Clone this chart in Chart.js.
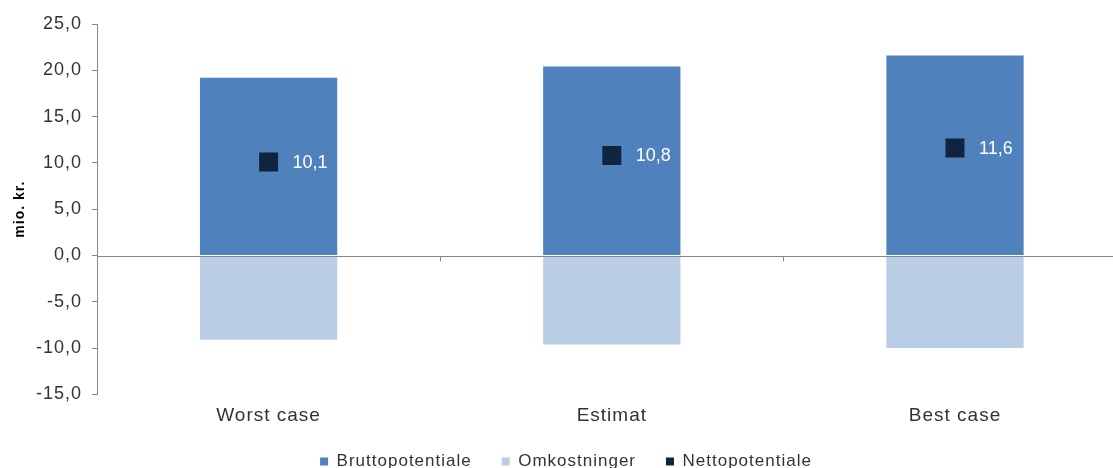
<!DOCTYPE html>
<html lang="da">
<head>
<meta charset="utf-8">
<title>Potentiale</title>
<script src="https://cdn.jsdelivr.net/npm/chart.js@4/dist/chart.umd.min.js"></script>
<style>
  html, body { margin: 0; padding: 0; background: #fff; }
  #wrap { width: 1113px; height: 468px; overflow: hidden; position: relative; }
  #c { display: block; }
</style>
</head>
<body>
<div id="wrap"><canvas id="c" width="1140" height="480"></canvas></div>
<script>
const categories = ['Worst case', 'Estimat', 'Best case'];
const bruttopotentiale = [19.2, 20.4, 21.6];
const omkostninger = [-9.1, -9.6, -10.0];
const nettopotentiale = [10.1, 10.8, 11.6];
const seriesNames = ['Bruttopotentiale', 'Omkostninger', 'Nettopotentiale'];
const yTitle = 'mio. kr.';

const fmt = v => v.toFixed(1).replace('.', ',');
const FONT = '"Liberation Sans", Arial, sans-serif';
const AXIS = '#868686';
const TEXT = '#333333';

// Slightly tracked-out lettering for all chart text
// (set again before layout and drawing, since resizing the canvas resets its state)
const tracking = {
  id: 'tracking',
  beforeUpdate(chart) { chart.ctx.letterSpacing = '1px'; },
  beforeDraw(chart) { chart.ctx.letterSpacing = '1px'; }
};

// Zero line across the plot, with small ticks between the categories
const zeroAxis = {
  id: 'zeroAxis',
  afterDatasetsDraw(chart) {
    const { ctx, chartArea, scales: { x, y } } = chart;
    const y0 = Math.round(y.getPixelForValue(0)) + 0.5;
    ctx.save();
    ctx.strokeStyle = AXIS;
    ctx.lineWidth = 1;
    ctx.beginPath();
    ctx.moveTo(chartArea.left, y0);
    ctx.lineTo(chartArea.right, y0);
    for (let i = 0; i <= categories.length; i++) {
      const px = Math.round(x.getPixelForValue(i - 0.5)) + 0.5;
      ctx.moveTo(px, y0);
      ctx.lineTo(px, y0 + 5);
    }
    ctx.stroke();
    ctx.restore();
  }
};

// Value labels to the right of the net markers
const netLabels = {
  id: 'netLabels',
  afterDatasetsDraw(chart) {
    const { ctx } = chart;
    const meta = chart.getDatasetMeta(2);
    ctx.save();
    ctx.letterSpacing = '0px';
    ctx.font = '18px ' + FONT;
    ctx.fillStyle = '#ffffff';
    ctx.textAlign = 'left';
    ctx.textBaseline = 'middle';
    meta.data.forEach((pt, i) => {
      ctx.fillText(fmt(nettopotentiale[i]), pt.x + 24, pt.y + 1);
    });
    ctx.restore();
  }
};

new Chart(document.getElementById('c'), {
  data: {
    labels: categories,
    datasets: [
      {
        type: 'bar',
        label: seriesNames[0],
        data: bruttopotentiale,
        backgroundColor: '#4F81BD',
        categoryPercentage: 1,
        barPercentage: 0.4,
        order: 2
      },
      {
        type: 'bar',
        label: seriesNames[1],
        data: omkostninger,
        backgroundColor: '#B9CDE5',
        categoryPercentage: 1,
        barPercentage: 0.4,
        order: 2
      },
      {
        type: 'line',
        label: seriesNames[2],
        data: nettopotentiale,
        showLine: false,
        pointStyle: 'rect',
        pointRadius: 13.4,
        pointHoverRadius: 13.4,
        pointBorderWidth: 0,
        backgroundColor: '#10243F',
        borderColor: '#10243F',
        order: 1
      }
    ]
  },
  options: {
    responsive: false,
    animation: false,
    devicePixelRatio: 1,
    layout: { padding: { top: 24, right: 8, bottom: 0, left: 0 } },
    plugins: {
      tooltip: { enabled: false },
      legend: {
        position: 'bottom',
        labels: {
          font: { family: FONT, size: 17 },
          color: TEXT,
          boxWidth: 8,
          boxHeight: 8,
          padding: 30,
          generateLabels(chart) {
            return chart.data.datasets.map((ds, i) => ({
              text: ds.label,
              fillStyle: ds.backgroundColor,
              strokeStyle: ds.backgroundColor,
              lineWidth: 0,
              hidden: false,
              datasetIndex: i,
              fontColor: TEXT
            }));
          }
        }
      }
    },
    scales: {
      x: {
        stacked: true,
        afterFit(scale) { scale.height = 28.6; },
        grid: { display: false, drawTicks: false },
        border: { display: false },
        ticks: { font: { family: FONT, size: 19 }, color: TEXT, padding: 10 }
      },
      y: {
        stacked: true,
        min: -15,
        max: 25,
        afterFit(scale) { scale.width = 97; },
        grid: { display: true, drawOnChartArea: false, drawTicks: true, tickLength: 5, color: AXIS },
        border: { display: true, color: AXIS },
        ticks: {
          stepSize: 5,
          padding: 10,
          font: { family: FONT, size: 18 },
          color: TEXT,
          callback: v => fmt(v)
        },
        title: {
          display: true,
          text: yTitle,
          font: { family: FONT, size: 14, weight: 'bold' },
          color: '#000000',
          padding: { top: 12, bottom: 0 }
        }
      }
    }
  },
  plugins: [tracking, zeroAxis, netLabels]
});
</script>
</body>
</html>
